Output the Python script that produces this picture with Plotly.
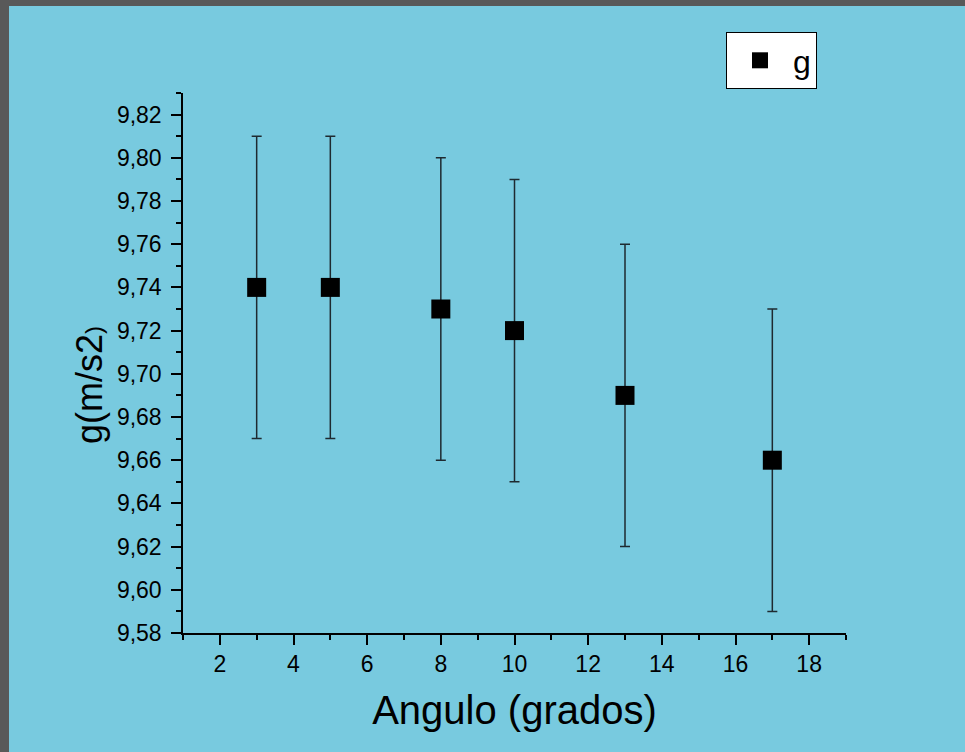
import plotly.graph_objects as go

angles = [3, 5, 8, 10, 13, 17]
g_values = [9.74, 9.74, 9.73, 9.72, 9.69, 9.66]
g_errors = [0.07, 0.07, 0.07, 0.07, 0.07, 0.07]

W, H = 965, 752
L, R, T, B = 183, 846, 93, 633
BLUE = "#78CADF"
GRAY = "#595959"
FONT = "Liberation Sans, Arial, sans-serif"

def px(xp):
    return (xp - L) / (R - L)

def py(yp):
    return (B - yp) / (B - T)

fig = go.Figure()
fig.add_trace(go.Scatter(
    x=angles, y=g_values, mode="markers", name="g",
    marker=dict(symbol="square", size=19, color="black"),
    error_y=dict(type="data", array=g_errors, visible=True,
                 color="#1e2a30", thickness=1.5, width=5),
))

axis_common = dict(
    showline=True, linecolor="black", linewidth=1.5,
    ticks="outside", ticklen=10, tickwidth=1.5, tickcolor="black",
    showgrid=False, zeroline=False,
    tickfont=dict(family=FONT, size=23, color="black"),
)

fig.update_layout(
    width=W, height=H,
    margin=dict(l=L, r=W - R, t=T, b=H - B),
    paper_bgcolor=BLUE, plot_bgcolor=BLUE,
    separators=", ",
    font=dict(family=FONT, color="black"),
    showlegend=True,
    legend=dict(
        x=px(726), y=py(32), xanchor="left", yanchor="top",
        bgcolor="white", bordercolor="black", borderwidth=1,
        font=dict(family=FONT, size=32, color="black"),
        itemwidth=56,
    ),
    xaxis=dict(
        range=[1, 19], tickmode="linear", tick0=0, dtick=2,
        minor=dict(ticks="outside", ticklen=5, tickwidth=1.5, dtick=1, tick0=0, tickcolor="black"),
        title=dict(text="Angulo (grados)", font=dict(family=FONT, size=40, color="black"), standoff=20),
        **axis_common,
    ),
    yaxis=dict(
        range=[9.58, 9.83], tickmode="linear", tick0=9.58, dtick=0.02, tickformat=".2f",
        ticklabelstandoff=5,
        minor=dict(ticks="outside", ticklen=5, tickwidth=1.5, dtick=0.01, tick0=9.58, tickcolor="black"),
        **axis_common,
    ),
    annotations=[
        dict(text="g(m/s2<span style='font-size:24px'>)</span>", textangle=-90,
             xref="paper", yref="paper", x=px(89), y=py(385),
             xanchor="center", yanchor="middle", showarrow=False,
             font=dict(family=FONT, size=36, color="black")),
    ],
    shapes=[
        dict(type="rect", xref="paper", yref="paper", layer="above",
             x0=px(0), x1=px(9), y0=py(H), y1=py(0),
             fillcolor=GRAY, line=dict(width=0)),
        dict(type="rect", xref="paper", yref="paper", layer="above",
             x0=px(0), x1=px(W), y0=py(6), y1=py(0),
             fillcolor=GRAY, line=dict(width=0)),
    ],
)

fig.write_html(
    "out.html",
    config={"displayModeBar": False},
    post_script="document.body.style.margin='0';document.body.style.overflow='hidden';",
)
